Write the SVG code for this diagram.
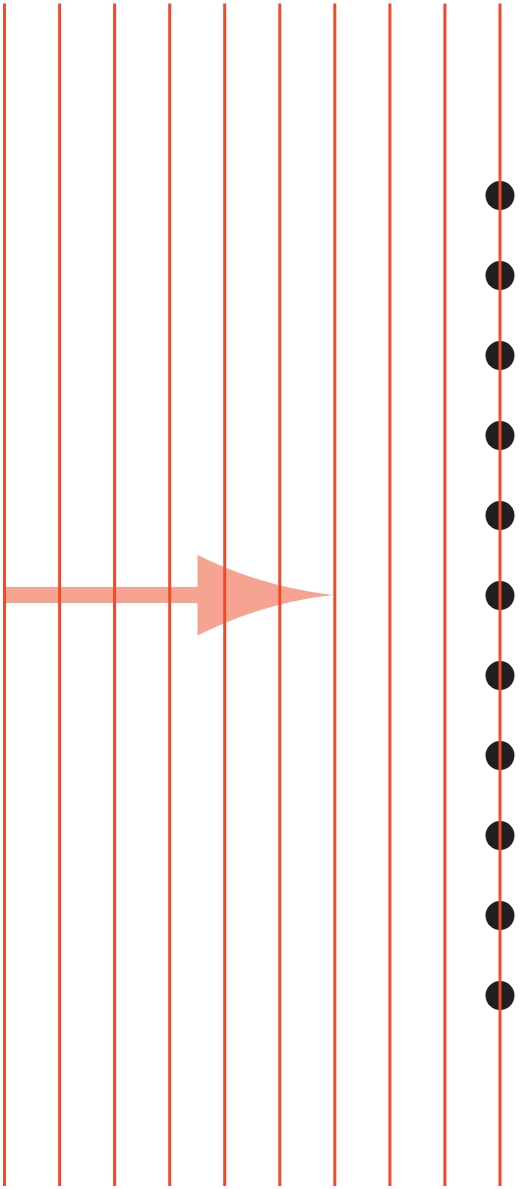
<svg xmlns="http://www.w3.org/2000/svg" width="520" height="1189" viewBox="0 0 520 1189">
<style>
.ln{stroke:#EE4B2B;stroke-width:3;fill:none}
.dot{fill:#231F20}
.arr{fill:#F7A391}
</style>
<rect width="520" height="1189" fill="#fff"/>
<g id="arrow">
<rect class="arr" x="4.5" y="587" width="194" height="16"/>
<path class="arr" d="M197.5,555 Q262,587 332.5,595 Q262,603 197.5,635.5 Z"/>
</g>
<g id="dots">
<circle class="dot" cx="500" cy="195.5" r="14.5"/>
<circle class="dot" cx="500" cy="275.5" r="14.5"/>
<circle class="dot" cx="500" cy="355.5" r="14.5"/>
<circle class="dot" cx="500" cy="435.5" r="14.5"/>
<circle class="dot" cx="500" cy="515.5" r="14.5"/>
<circle class="dot" cx="500" cy="595.5" r="14.5"/>
<circle class="dot" cx="500" cy="675.5" r="14.5"/>
<circle class="dot" cx="500" cy="755.5" r="14.5"/>
<circle class="dot" cx="500" cy="835.5" r="14.5"/>
<circle class="dot" cx="500" cy="915.5" r="14.5"/>
<circle class="dot" cx="500" cy="995.5" r="14.5"/>
</g>
<g id="lines">
<line class="ln" x1="4.5" y1="3.5" x2="4.5" y2="1186"/>
<line class="ln" x1="59.6" y1="3.5" x2="59.6" y2="1186"/>
<line class="ln" x1="114.6" y1="3.5" x2="114.6" y2="1186"/>
<line class="ln" x1="169.7" y1="3.5" x2="169.7" y2="1186"/>
<line class="ln" x1="224.7" y1="3.5" x2="224.7" y2="1186"/>
<line class="ln" x1="279.8" y1="3.5" x2="279.8" y2="1186"/>
<line class="ln" x1="334.8" y1="3.5" x2="334.8" y2="1186"/>
<line class="ln" x1="389.9" y1="3.5" x2="389.9" y2="1186"/>
<line class="ln" x1="444.9" y1="3.5" x2="444.9" y2="1186"/>
<line class="ln" x1="500" y1="3.5" x2="500" y2="1186"/>
</g>
</svg>
